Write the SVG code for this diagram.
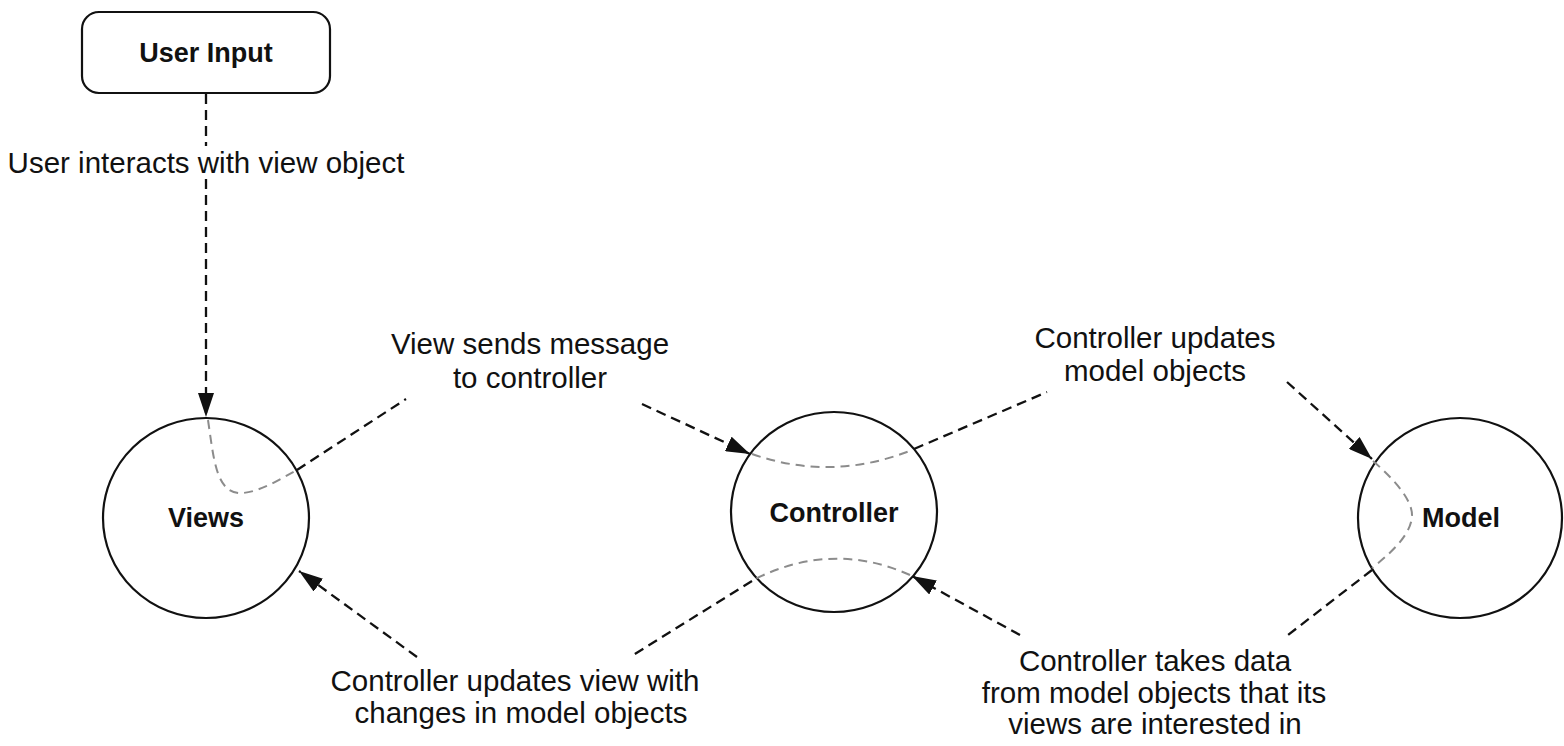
<svg xmlns="http://www.w3.org/2000/svg" width="1564" height="746" viewBox="0 0 1564 746">
<style>
.node{fill:#fff;stroke:#111;stroke-width:2.2}
.title{font-family:"Liberation Sans",Arial,Helvetica,sans-serif;font-weight:bold;font-size:27px;fill:#111;text-anchor:middle}
.lbl{font-family:"Liberation Sans",Arial,Helvetica,sans-serif;font-size:29.5px;fill:#111;text-anchor:middle}
.dash{fill:none;stroke:#111;stroke-width:2.3;stroke-dasharray:10 6}
.inner{fill:none;stroke:#8c8c8c;stroke-width:2;stroke-dasharray:9 6}
</style>
<defs>
<marker id="ah" viewBox="0 0 24 16" refX="24" refY="8" markerWidth="24" markerHeight="16" markerUnits="userSpaceOnUse" orient="auto">
<path d="M0,0 L24,8 L0,16 z" fill="#111"/>
</marker>
</defs>
<g id="user-input">
<rect class="node" x="82" y="12" width="248" height="81" rx="17"/>
<text class="title" x="206" y="62">User Input</text>
</g>
<g id="views">
<ellipse class="node" cx="206" cy="518" rx="103" ry="100"/>
<text class="title" x="206" y="527">Views</text>
</g>
<g id="controller">
<ellipse class="node" cx="834" cy="512" rx="103" ry="100"/>
<text class="title" x="834" y="522">Controller</text>
</g>
<g id="model">
<ellipse class="node" cx="1460" cy="518" rx="102" ry="100"/>
<text class="title" x="1461" y="527">Model</text>
</g>
<g id="connectors">
<path class="dash" d="M206,94 V146 M206,179 V417" marker-end="url(#ah)"/>
<path class="inner" d="M208,420 C214,460 216,495 243,493 C262,491 280,479 297,470"/>
<path class="dash" d="M297,470 L406,399"/>
<path class="dash" d="M642,404 L750,454" marker-end="url(#ah)"/>
<path class="inner" d="M752,454 Q832,482 912,450"/>
<path class="dash" d="M914,449 L1047,392"/>
<path class="dash" d="M1287,382 L1372,459" marker-end="url(#ah)"/>
<path class="inner" d="M1373,461 C1395,480 1412,500 1412,515 C1412,532 1395,550 1372,568"/>
<path class="dash" d="M1372,570 L1288,635"/>
<path class="dash" d="M1020,635 L912,576" marker-end="url(#ah)"/>
<path class="inner" d="M910,575 Q832,540 753,580"/>
<path class="dash" d="M752,581 L630,657"/>
<path class="dash" d="M417,657 L299,571" marker-end="url(#ah)"/>
</g>
<g id="labels">
<text class="lbl" x="206" y="173">User interacts with view object</text>
<text class="lbl" x="530" y="354">View sends message</text>
<text class="lbl" x="530" y="388">to controller</text>
<text class="lbl" x="1155" y="348">Controller updates</text>
<text class="lbl" x="1155" y="381">model objects</text>
<text class="lbl" x="515" y="691">Controller updates view with</text>
<text class="lbl" x="521" y="723">changes in model objects</text>
<text class="lbl" x="1155" y="671">Controller takes data</text>
<text class="lbl" x="1154" y="703">from model objects that its</text>
<text class="lbl" x="1155" y="734">views are interested in</text>
</g>
</svg>
